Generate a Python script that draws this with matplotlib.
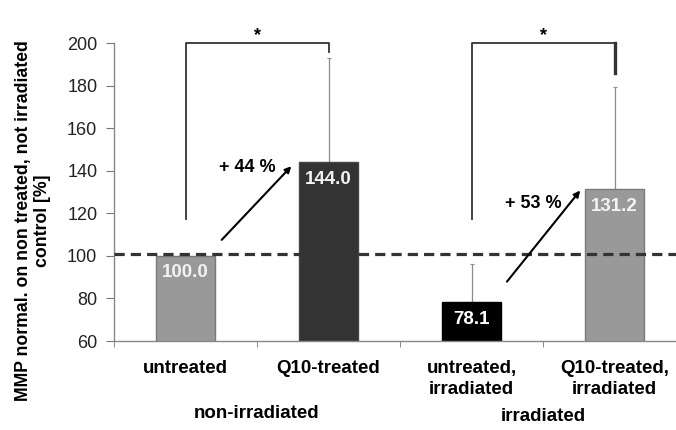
import matplotlib.pyplot as plt

plt.rcParams['font.family'] = ['Liberation Sans', 'DejaVu Sans']

categories = ['untreated', 'Q10-treated', 'untreated,\nirradiated', 'Q10-treated,\nirradiated']
groups = ['non-irradiated', 'irradiated']
values = [100.0, 144.0, 78.1, 131.2]
errors = [0.0, 49.0, 18.0, 48.0]
changes = ['+ 44 %', '+ 53 %']
colors = ['#999999', '#333333', '#000000', '#999999']
edges = ['#7a7a7a', '#444444', '#000000', '#7a7a7a']
label_colors = ['#f2f2f2', '#f2f2f2', '#ffffff', '#f2f2f2']

x = range(len(values))

fig = plt.figure(figsize=(6.76, 4.30), dpi=100)
ax = fig.add_axes([114/676, 1-341/430, 572/676, 298/430])

ax.bar(x, values, width=0.41, color=colors, edgecolor=edges, linewidth=1, zorder=2)
ax.errorbar(x, values, yerr=[[0]*len(errors), errors], fmt='none', ecolor='#8c8c8c',
            elinewidth=0.9, capsize=1.5, capthick=0.8, zorder=1)

# values inside the bars
for i in x:
    ax.text(i, values[i]-8, '%.1f' % values[i], ha='center', va='center', color=label_colors[i],
            fontsize=13.5, fontweight='bold', zorder=4)

# reference line at control level
ax.axhline(101, color='#333333', lw=2.3, dashes=(3.2, 1.9), zorder=3)

# significance brackets
ax.plot([0, 0, 1, 1], [117.4, 200, 200, 195.8], color='#333333', lw=1.3, clip_on=False, zorder=3)
ax.plot([2, 2, 3, 3], [117.4, 200, 200, 186], color='#333333', lw=1.3, clip_on=False, zorder=3)
ax.plot([3, 3], [200, 186], color='#333333', lw=2.4, clip_on=False, zorder=3)
ax.text(0.5, 203.5, '*', ha='center', va='center', fontsize=13, fontweight='bold')
ax.text(2.5, 203.5, '*', ha='center', va='center', fontsize=13, fontweight='bold')

# change arrows
ax.annotate('', xy=(0.74, 142.1), xytext=(0.253, 107.5),
            arrowprops=dict(arrowstyle='-|>', color='black', lw=1.5, mutation_scale=9, shrinkA=0, shrinkB=0))
ax.annotate('', xy=(2.76, 130.7), xytext=(2.248, 87.9),
            arrowprops=dict(arrowstyle='-|>', color='black', lw=1.5, mutation_scale=9, shrinkA=0, shrinkB=0))
ax.text(0.43, 141.7, changes[0], ha='center', va='center', fontsize=13, fontweight='bold', zorder=4)
ax.text(2.43, 124.6, changes[1], ha='center', va='center', fontsize=13, fontweight='bold', zorder=4)

ax.set_xlim(-0.5, 3.5)
ax.set_ylim(60, 200)
ax.set_yticks(range(60, 201, 20))
ax.set_xticks(list(x))
ax.set_xticklabels(categories, fontsize=13.5, fontweight='bold', linespacing=1.25)
ax.set_xticks([-0.5, 0.5, 1.5, 2.5], minor=True)
ax.tick_params(axis='x', which='major', length=0, pad=14)
ax.tick_params(axis='x', which='minor', length=4, color='#777777', direction='out')
ax.tick_params(axis='y', length=6, color='#777777', labelsize=13, pad=6, labelcolor='#222222')
for s in ['top', 'right']:
    ax.spines[s].set_visible(False)
for s in ['left', 'bottom']:
    ax.spines[s].set_color('#888888')
    ax.spines[s].set_linewidth(1)

ax.text(0.5, -0.242, groups[0], transform=ax.get_xaxis_transform(), ha='center', va='center',
        fontsize=13.5, fontweight='bold')
ax.text(2.5, -0.255, groups[1], transform=ax.get_xaxis_transform(), ha='center', va='center',
        fontsize=13.5, fontweight='bold')

ax.set_ylabel('MMP normal. on non treated, not irradiated\ncontrol [%]', fontsize=12.7,
              fontweight='bold', linespacing=1.15)
ax.yaxis.set_label_coords(-0.11, 0.405)

fig.savefig('out.png', dpi=100)
